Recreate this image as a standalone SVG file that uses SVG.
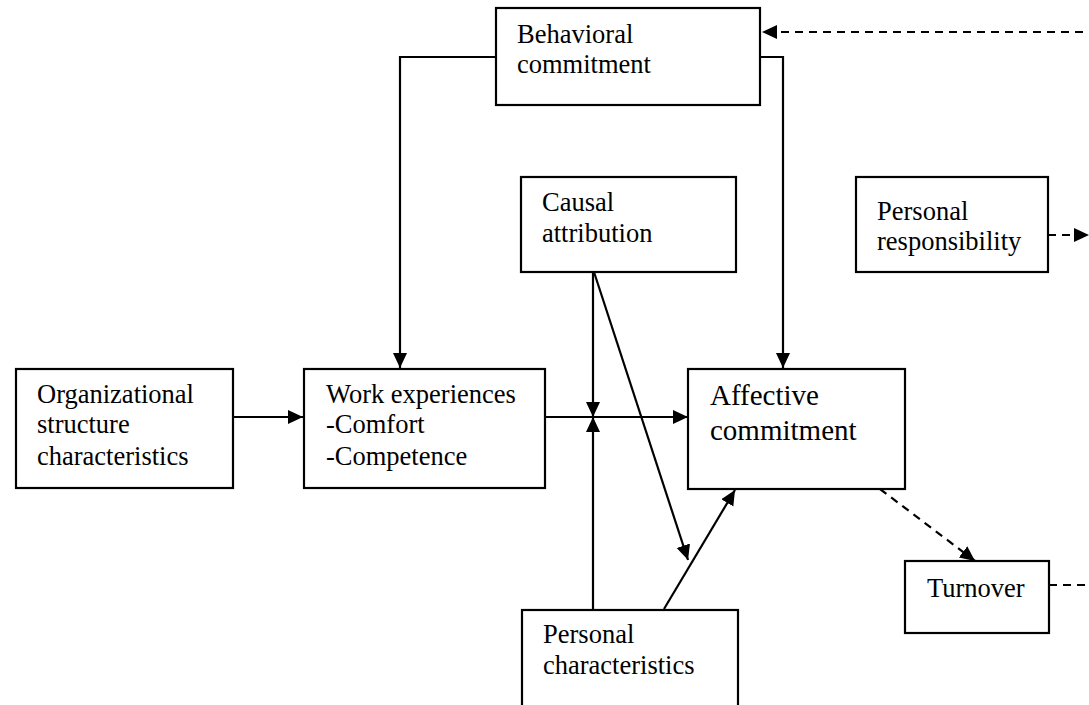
<svg xmlns="http://www.w3.org/2000/svg" width="1089" height="705" viewBox="0 0 1089 705">
  <style>
    .box { fill: #ffffff; stroke: #000000; stroke-width: 2.2; }
    .lbl { font-family: 'Liberation Serif', 'DejaVu Serif', serif; font-size: 26.5px; fill: #000000; }
    .big { font-size: 29px; }
    .edge { fill: none; stroke: #000000; stroke-width: 2.2; }
    .dash { stroke-dasharray: 8 6; }
  </style>
  <defs>
    <marker id="arrow" markerUnits="userSpaceOnUse" markerWidth="16" markerHeight="16" viewBox="0 0 16 16" refX="15" refY="8" orient="auto">
      <path d="M0,1 L15,8 L0,15 Z" fill="#000000"/>
    </marker>
  </defs>
  <rect width="1089" height="705" fill="#ffffff"/>

  <g id="connectors">
    <!-- behavioral commitment to work experiences -->
    <path class="edge" d="M496,57 H400 V368" marker-end="url(#arrow)"/>
    <!-- behavioral commitment to affective commitment -->
    <path class="edge" d="M760,57 H783 V368" marker-end="url(#arrow)"/>
    <!-- incoming dashed link to behavioral commitment -->
    <path class="edge dash" d="M1083,32 H762" marker-end="url(#arrow)"/>
    <!-- personal responsibility outgoing -->
    <path class="edge dash" d="M1048,235 H1089" marker-end="url(#arrow)"/>
    <!-- organizational structure to work experiences -->
    <path class="edge" d="M233,417 H303" marker-end="url(#arrow)"/>
    <!-- work experiences to affective commitment -->
    <path class="edge" d="M545,417 H688" marker-end="url(#arrow)"/>
    <!-- causal attribution moderating -->
    <path class="edge" d="M593,272 V417" marker-end="url(#arrow)"/>
    <path class="edge" d="M594,272 L688,560" marker-end="url(#arrow)"/>
    <!-- personal characteristics moderating -->
    <path class="edge" d="M593,610 V417" marker-end="url(#arrow)"/>
    <path class="edge" d="M664,609 L735,490" marker-end="url(#arrow)"/>
    <!-- affective commitment to turnover -->
    <path class="edge dash" d="M880,489 L975,561" marker-end="url(#arrow)"/>
    <!-- turnover outgoing -->
    <path class="edge dash" d="M1049,585 H1089"/>
  </g>

  <g id="behavioral-commitment">
    <rect class="box" x="496" y="8" width="264" height="97"/>
    <text class="lbl" x="517" y="43">Behavioral</text>
    <text class="lbl" x="517" y="73">commitment</text>
  </g>

  <g id="causal-attribution">
    <rect class="box" x="521" y="177" width="215" height="95"/>
    <text class="lbl" x="542" y="211">Causal</text>
    <text class="lbl" x="542" y="242">attribution</text>
  </g>

  <g id="personal-responsibility">
    <rect class="box" x="856" y="177" width="192" height="95"/>
    <text class="lbl" x="877" y="220">Personal</text>
    <text class="lbl" x="877" y="250">responsibility</text>
  </g>

  <g id="organizational-structure">
    <rect class="box" x="16" y="369" width="217" height="119"/>
    <text class="lbl" x="37" y="403">Organizational</text>
    <text class="lbl" x="37" y="433">structure</text>
    <text class="lbl" x="37" y="465">characteristics</text>
  </g>

  <g id="work-experiences">
    <rect class="box" x="304" y="369" width="241" height="119"/>
    <text class="lbl" x="326" y="403">Work experiences</text>
    <text class="lbl" x="326" y="433">-Comfort</text>
    <text class="lbl" x="326" y="465">-Competence</text>
  </g>

  <g id="affective-commitment">
    <rect class="box" x="688" y="369" width="217" height="120"/>
    <text class="lbl big" x="710" y="405">Affective</text>
    <text class="lbl big" x="710" y="440">commitment</text>
  </g>

  <g id="turnover">
    <rect class="box" x="905" y="561" width="144" height="72"/>
    <text class="lbl" x="927" y="597">Turnover</text>
  </g>

  <g id="personal-characteristics">
    <rect class="box" x="522" y="610" width="216" height="110"/>
    <text class="lbl" x="543" y="643">Personal</text>
    <text class="lbl" x="543" y="674">characteristics</text>
  </g>
</svg>
